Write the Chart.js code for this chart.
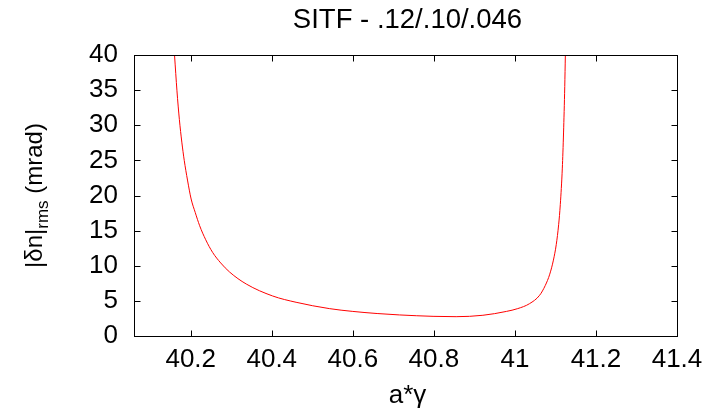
<!DOCTYPE html>
<html>
<head>
<meta charset="utf-8">
<script src="https://cdn.jsdelivr.net/npm/chart.js@4/dist/chart.umd.min.js"></script>
<style>
  html, body { margin: 0; padding: 0; background: #fff; }
  #wrap { width: 720px; height: 413px; position: relative; }
</style>
</head>
<body>
<div id="wrap"><canvas id="c" width="720" height="413"></canvas></div>
<script>
// ---- data ----
const chartTitle = "SITF - .12/.10/.046";
const xTitle = "a*\u03B3";
const yTitleMain = "|\u03B4n|";
const yTitleSub = "rms";
const yTitleTail = " (mrad)";

const aGamma = [40.160, 40.166, 40.172, 40.178, 40.184, 40.192, 40.201, 40.211, 40.222, 40.237,
  40.254, 40.274, 40.296, 40.337, 40.402, 40.460, 40.542, 40.600, 40.660, 40.715, 40.798,
  40.855, 40.921, 40.979, 41.007, 41.036, 41.061, 41.075, 41.086, 41.095, 41.102, 41.108,
  41.112, 41.117, 41.120, 41.123, 41.1245];
const dnRms = [40.0, 34.9, 30.8, 27.6, 25.0, 22.2, 19.5, 17.6, 15.7, 13.7,
  11.9, 10.4, 9.1, 7.4, 5.7, 4.8, 3.9, 3.5, 3.2, 3.0, 2.8,
  2.75, 2.95, 3.5, 3.9, 4.6, 5.8, 7.2, 8.8, 10.8, 13.0, 15.9,
  18.7, 23.9, 28.9, 35.5, 40.0];

const xTicks = [40.2, 40.4, 40.6, 40.8, 41, 41.2, 41.4];
const yTicks = [0, 5, 10, 15, 20, 25, 30, 35, 40];
const xMin = 40.06, xMax = 41.4, yMin = 0, yMax = 40;

const FONT = "'Liberation Sans', Arial, Helvetica, sans-serif";
const FS = 26;

const points = aGamma.map((x, i) => ({ x: x, y: dnRms[i] }));

const framePlugin = {
  id: 'frame',
  afterDraw(chart) {
    const ctx = chart.ctx;
    const a = chart.chartArea;
    const xs = chart.scales.x, ys = chart.scales.y;
    const L = Math.round(a.left) + 0.5, R = Math.round(a.right) + 0.5;
    const T = Math.round(a.top) + 0.5, B = Math.round(a.bottom) + 0.5;
    const tl = 6;
    ctx.save();
    ctx.strokeStyle = '#000';
    ctx.lineWidth = 1;
    ctx.beginPath();
    xTicks.forEach(v => {
      const px = Math.round(xs.getPixelForValue(v)) + 0.5;
      ctx.moveTo(px, B); ctx.lineTo(px, B - tl);
      ctx.moveTo(px, T); ctx.lineTo(px, T + tl);
    });
    yTicks.forEach(v => {
      const py = Math.round(ys.getPixelForValue(v)) + 0.5;
      ctx.moveTo(L, py); ctx.lineTo(L + tl, py);
      ctx.moveTo(R, py); ctx.lineTo(R - tl, py);
    });
    ctx.stroke();
    ctx.strokeRect(L, T, R - L, B - T);

    // titles
    ctx.fillStyle = '#000';
    ctx.textAlign = 'center';
    ctx.textBaseline = 'middle';
    const cx = (a.left + a.right) / 2;
    ctx.font = '27.5px ' + FONT;
    ctx.fillText(chartTitle, cx + 2, 20);
    ctx.font = FS + 'px ' + FONT;
    ctx.fillText(xTitle, cx + 2, 396);

    // y title with subscript
    const YF = 24;
    const subFS = 17;
    ctx.font = YF + 'px ' + FONT;
    const w1 = ctx.measureText(yTitleMain).width;
    const w3 = ctx.measureText(yTitleTail).width;
    ctx.font = subFS + 'px ' + FONT;
    const w2 = ctx.measureText(yTitleSub).width;
    const total = w1 + w2 + w3;
    ctx.translate(34, (a.top + a.bottom) / 2);
    ctx.rotate(-Math.PI / 2);
    ctx.textAlign = 'left';
    ctx.textBaseline = 'alphabetic';
    let x0 = -total / 2;
    const base = 8;
    ctx.font = YF + 'px ' + FONT;
    ctx.fillText(yTitleMain, x0, base);
    ctx.font = subFS + 'px ' + FONT;
    ctx.fillText(yTitleSub, x0 + w1, base + 6);
    ctx.font = YF + 'px ' + FONT;
    ctx.fillText(yTitleTail, x0 + w1 + w2, base);
    ctx.restore();
  }
};

const fmt = v => String(parseFloat(Number(v).toFixed(3)));

new Chart(document.getElementById('c'), {
  type: 'scatter',
  data: {
    datasets: [{
      data: points,
      showLine: true,
      borderColor: '#ff0000',
      borderWidth: 1,
      pointRadius: 0,
      pointHoverRadius: 0,
      cubicInterpolationMode: 'monotone',
      fill: false
    }]
  },
  options: {
    responsive: false,
    animation: false,
    events: [],
    layout: { padding: { top: 55, right: 43, left: 0, bottom: 0 } },
    plugins: { legend: { display: false }, tooltip: { enabled: false }, title: { display: false } },
    scales: {
      x: {
        type: 'linear',
        min: xMin, max: xMax,
        grid: { display: false, drawTicks: false },
        border: { display: false },
        afterFit: s => { s.height = 77; },
        afterBuildTicks: s => { s.ticks = xTicks.map(v => ({ value: v })); },
        ticks: {
          padding: 8,
          color: '#000',
          maxRotation: 0,
          autoSkip: false,
          font: { family: FONT, size: FS },
          callback: fmt
        }
      },
      y: {
        type: 'linear',
        min: yMin, max: yMax,
        grid: { display: false, drawTicks: false },
        border: { display: false },
        afterFit: s => { s.width = 134; },
        afterBuildTicks: s => { s.ticks = yTicks.map(v => ({ value: v })); },
        ticks: {
          padding: 16,
          color: '#000',
          autoSkip: false,
          font: { family: FONT, size: FS },
          callback: fmt
        }
      }
    }
  },
  plugins: [framePlugin]
});
</script>
</body>
</html>
